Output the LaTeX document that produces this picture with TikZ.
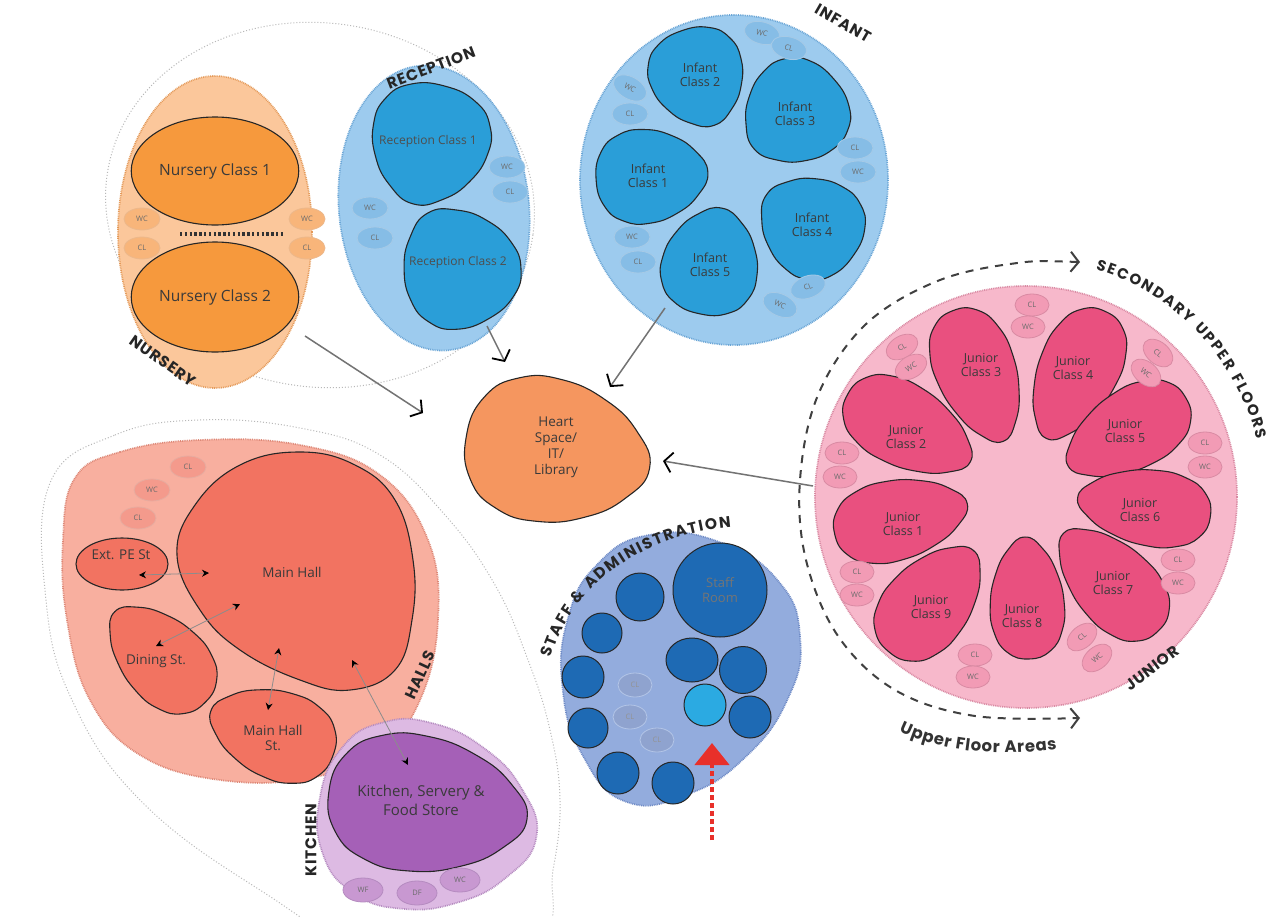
\documentclass[tikz,border=0pt]{standalone}
\usepackage{fontspec}
\setmainfont{Open Sans}
\newfontfamily\headfont[LetterSpace=6]{Poppins}
\newfontfamily\arcfont{Poppins}
\usetikzlibrary{shapes.geometric,arrows.meta,decorations.text}
\definecolor{nurL}{HTML}{FBC79B}\definecolor{nurD}{HTML}{E49A5A}\definecolor{nurC}{HTML}{F6993D}\definecolor{nurS}{HTML}{F8B57A}
\definecolor{bluL}{HTML}{9DCBEE}\definecolor{bluD}{HTML}{6BA6D6}\definecolor{bluC}{HTML}{2A9ED8}\definecolor{bluS}{HTML}{86BDE6}
\definecolor{pinL}{HTML}{F7B8CB}\definecolor{pinD}{HTML}{D98AA3}\definecolor{pinC}{HTML}{E9507F}\definecolor{pinS}{HTML}{F29BB5}
\definecolor{halL}{HTML}{F8AF9F}\definecolor{halD}{HTML}{DD8877}\definecolor{halC}{HTML}{F27361}\definecolor{halS}{HTML}{F49A8C}
\definecolor{kitL}{HTML}{DDBAE3}\definecolor{kitD}{HTML}{B58BC0}\definecolor{kitC}{HTML}{A560B7}\definecolor{kitS}{HTML}{C898D1}
\definecolor{stfL}{HTML}{93ACDD}\definecolor{stfD}{HTML}{6F8BC6}\definecolor{stfC}{HTML}{1E6AB4}\definecolor{stfY}{HTML}{2BAAE2}\definecolor{stfS}{HTML}{8FA3CF}
\definecolor{heartc}{HTML}{F5965F}\definecolor{txt}{HTML}{3A3A3A}\definecolor{redA}{HTML}{E8302A}\definecolor{grayO}{HTML}{B8B8B8}
\newcommand\blobegg[6]{\begin{scope}[shift={(#2,#3)},rotate=#4,xscale=#5,yscale=#6]
\path[#1] plot[smooth cycle,tension=0.8] coordinates {(-1,0) (-0.8,0.47) (-0.4,0.83) (0.1,1) (0.55,0.92) (0.88,0.58) (1,0) (0.88,-0.58) (0.55,-0.92) (0.1,-1) (-0.4,-0.83) (-0.8,-0.47)};
\end{scope}}
\begin{document}
\begin{tikzpicture}[x=1pt,y=-1pt,
 region/.style={line width=1.7pt,dash pattern=on 0.9pt off 0.9pt},
 room/.style={draw=black!85,line width=1.1pt},
 lbl/.style={font=\fontsize{12.5}{14.5}\selectfont,text=txt,align=center},
 slbl/.style={font=\fontsize{12}{13}\selectfont,text=txt!90,align=center},
 head/.style={font=\headfont\bfseries\fontsize{15.5}{16}\selectfont,text=black!85},
 sm/.style={ellipse,minimum width=36pt,minimum height=22pt,inner sep=0pt,line width=0.8pt,font=\fontsize{7.5}{8}\selectfont,text=txt!75},
 nsm/.style={sm,fill=nurS,draw=nurD!70},
 bsm/.style={sm,fill=bluS,draw=bluD!60},
 psm/.style={sm,minimum width=34pt,fill=pinS,draw=pinD},
 hsm/.style={sm,fill=halS,draw=halD!70},
 ksm/.style={sm,minimum width=40pt,minimum height=24pt,fill=kitS,draw=kitD},
 ssm/.style={sm,minimum width=34pt,minimum height=24pt,fill=stfS,draw=stfL!70!white,text=txt!55},
 scirc/.style={circle,fill=stfC,draw=black!85,line width=1pt,inner sep=0pt},
 toheart/.style={draw=black!55,line width=1.5pt,-{Straight Barb[length=8pt,width=20pt,line width=1.8pt,color=black]}},
 hallarr/.style={draw=black!45,line width=0.8pt,{Stealth[length=7pt,width=7pt,color=black]}-{Stealth[length=7pt,width=7pt,color=black]}},
]
\clip (0,0) rectangle (1272,916);
\fill[white] (0,0) rectangle (1272,916);

% ---------- outer grey boundaries
\draw[grayO,line width=1pt,dash pattern=on 1pt off 2pt,rotate around={-8:(320,205)}] (320,205) ellipse[x radius=215,y radius=182];
\draw[grayO,line width=1pt,dash pattern=on 1pt off 2pt] plot[smooth cycle,tension=0.7] coordinates {(50,483) (115,435) (200,420) (300,428) (380,455) (445,515) (495,585) (528,660) (550,730) (560,800) (553,870) (535,940) (400,965) (260,890) (140,800) (72,700) (46,600)};

% ---------- NURSERY
\draw[region,fill=nurL,draw=nurD] (215,232) ellipse[x radius=97,y radius=156];
\node[ellipse,room,fill=nurC,minimum width=132pt,minimum height=108pt,lbl,font=\fontsize{15.5}{17}\selectfont] (nc1) at (215,171) {Nursery Class 1};
\node[ellipse,room,fill=nurC,minimum width=132pt,minimum height=110pt,lbl,font=\fontsize{15.5}{17}\selectfont] (nc2) at (215,297) {Nursery Class 2};
\coordinate (dl1) at (180,234); \coordinate (dl2) at (283,234);
\draw[black!80,line width=4pt,dash pattern=on 2.4pt off 2.4pt] (dl1) -- (dl2);
\node[nsm] (nwc1) at (142,219) {WC};
\node[nsm] (ncl1) at (142,248) {CL};
\node[nsm] (nwc2) at (307,219) {WC};
\node[nsm] (ncl2) at (307,248) {CL};
\node[head,rotate=-35] (lnur) at (163,361) {NURSERY};

% ---------- RECEPTION
\draw[region,fill=bluL,draw=bluD,rotate around={6:(434,208)}] (434,208) ellipse[x radius=95,y radius=143];
\blobegg{fill=bluC,room}{429}{145}{75}{61}{59}
\blobegg{fill=bluC,room}{458}{266}{-60}{61}{58}
\node[slbl] (rc1) at (428,141) {Reception Class 1};
\node[slbl] (rc2) at (458,262) {Reception Class 2};
\node[bsm] (rwc1) at (507,167) {WC};
\node[bsm] (rcl1) at (510,192) {CL};
\node[bsm] (rwc2) at (370,208) {WC};
\node[bsm] (rcl2) at (375,238) {CL};
\node[head,rotate=21] (lrec) at (431,68) {RECEPTION};

% ---------- INFANT
\draw[region,fill=bluL,draw=bluD] (734,180) ellipse[x radius=154,y radius=165];
\blobegg{fill=bluC,room}{698}{78}{109}{50}{47}
\blobegg{fill=bluC,room}{794}{114}{41}{53}{52}
\blobegg{fill=bluC,room}{652}{176}{184}{56}{47}
\blobegg{fill=bluC,room}{810}{225}{-35}{53}{50}
\blobegg{fill=bluC,room}{711}{261}{-102}{54}{48}
\node[lbl] (ic2) at (700,75) {Infant\\Class 2};
\node[lbl] (ic3) at (795,114) {Infant\\Class 3};
\node[lbl] (ic1) at (648,176) {Infant\\Class 1};
\node[lbl] (ic4) at (812,225) {Infant\\Class 4};
\node[lbl] (ic5) at (710,265) {Infant\\Class 5};
\node[bsm,rotate=-15] (iwc1) at (762,33) {WC};
\node[bsm,rotate=-15] (icl1) at (789,48) {CL};
\node[bsm,rotate=-30] (iwc2) at (630,88) {WC};
\node[bsm] (icl2) at (630,114) {CL};
\node[bsm] (icl3) at (855,148) {CL};
\node[bsm] (iwc3) at (858,172) {WC};
\node[bsm] (iwc4) at (632,237) {WC};
\node[bsm] (icl4) at (638,262) {CL};
\node[bsm,rotate=20] (icl5) at (808,287) {CL};
\node[bsm,rotate=-25] (iwc5) at (780,305) {WC};
\node[head,rotate=-30] (linf) at (843,23) {INFANT};

% ---------- JUNIOR
\draw[region,fill=pinL,draw=pinD] (1026,497) circle[radius=211];
\blobegg{fill=pinC,room}{978}{376}{111}{70}{40}
\blobegg{fill=pinC,room}{1076}{375}{65}{70}{40}
\blobegg{fill=pinC,room}{1127}{432}{30}{68}{40}
\blobegg{fill=pinC,room}{1144}{507}{-8}{67}{38}
\blobegg{fill=pinC,room}{1111}{582}{-46}{68}{40}
\blobegg{fill=pinC,room}{1027}{598}{-88}{61}{37}
\blobegg{fill=pinC,room}{931}{601}{-130}{66}{42}
\blobegg{fill=pinC,room}{901}{519}{193}{68}{40}
\blobegg{fill=pinC,room}{909}{428}{151}{70}{41}
\node[lbl] (j3) at (981,365) {Junior\\Class 3};
\node[lbl] (j4) at (1073,368) {Junior\\Class 4};
\node[lbl] (j5) at (1125,431) {Junior\\Class 5};
\node[lbl] (j6) at (1140,510) {Junior\\Class 6};
\node[lbl] (j7) at (1113,583) {Junior\\Class 7};
\node[lbl] (j8) at (1022,616) {Junior\\Class 8};
\node[lbl] (j9) at (931,607) {Junior\\Class 9};
\node[lbl] (j1) at (903,524) {Junior\\Class 1};
\node[lbl] (j2) at (906,437) {Junior\\Class 2};
\node[psm] (jcl1) at (1032,305) {CL};
\node[psm] (jwc1) at (1028,327) {WC};
\node[psm,rotate=30] (jcl2) at (902,347) {CL};
\node[psm,rotate=30] (jwc2) at (911,367) {WC};
\node[psm,rotate=-40] (jcl3) at (1158,353) {CL};
\node[psm,rotate=-40] (jwc3) at (1146,373) {WC};
\node[psm] (jcl4) at (842,453) {CL};
\node[psm] (jwc4) at (840,477) {WC};
\node[psm] (jcl5) at (1205,443) {CL};
\node[psm] (jwc5) at (1205,467) {WC};
\node[psm] (jcl6) at (857,572) {CL};
\node[psm] (jwc6) at (857,595) {WC};
\node[psm] (jcl7) at (1178,560) {CL};
\node[psm] (jwc7) at (1178,583) {WC};
\node[psm] (jcl8) at (975,655) {CL};
\node[psm] (jwc8) at (973,677) {WC};
\node[psm,rotate=40] (jcl9) at (1082,637) {CL};
\node[psm,rotate=40] (jwc9) at (1097,658) {WC};
\node[head,rotate=37] (ljun) at (1152,668) {JUNIOR};
\path[decorate,decoration={text along path,text align=fit to path,text color=black!85,
  text={|\arcfont\bfseries\fontsize{15}{15}\selectfont|SECONDARY UPPER FLOORS}}]
  (1026,497) ++(-73:238) arc[start angle=-73,end angle=-14,radius=238];

% dashed upper floor arc
\coordinate (ufa) at (1080,262);
\coordinate (ufb) at (1080,718);
\draw[black!75,line width=2pt,dash pattern=on 8pt off 7pt,
 {Straight Barb[length=8pt,width=20pt,line width=2pt]}-{Straight Barb[length=8pt,width=20pt,line width=2pt]}]
 plot[smooth,tension=0.6] coordinates {(ufa) (1010,264) (935,282) (865,325) (818,395) (800,480) (806,560) (838,636) (895,690) (975,716) (ufb)};
\path[decorate,decoration={text along path,text align=fit to path,text color=black!80,
  text={|\arcfont\bfseries\fontsize{16.5}{17}\selectfont|Upper Floor Areas}}]
  (899,731) .. controls (945,753) and (1000,757) .. (1057,749);

% ---------- HEART
\blobegg{fill=heartc,room}{558}{452}{170}{93}{72}
\node[lbl,font=\fontsize{13.5}{16}\selectfont] (heart) at (556,447) {Heart\\Space/\\IT/\\Library};

% ---------- HALLS
\path[region,fill=halL,draw=halD] plot[smooth cycle,tension=0.7] coordinates {(75,478) (120,452) (200,440) (300,445) (380,475) (428,540) (438,620) (420,700) (380,750) (310,778) (220,780) (140,755) (90,700) (67,620) (63,540)};
\path[fill=halC,room] plot[smooth cycle,tension=0.7] coordinates {(177,555) (200,610) (240,650) (300,680) (350,690) (395,670) (412,620) (413,560) (395,500) (355,465) (300,452) (240,465) (195,505)};
\node[lbl,font=\fontsize{13.5}{15}\selectfont] (mh) at (292,572) {Main Hall};
\node[ellipse,room,fill=halC,minimum width=92pt,minimum height=52pt,inner sep=0pt] (pe) at (122,564) {};
\node[lbl,font=\fontsize{13.5}{15}\selectfont] (pet) at (121,555) {Ext. PE St};
\blobegg{fill=halC,room}{160}{657}{-45}{64}{41}
\node[lbl,font=\fontsize{13.5}{15}\selectfont] (dn) at (156,661) {Dining St.};
\blobegg{fill=halC,room}{272}{733}{-20}{65}{44}
\node[lbl,font=\fontsize{13.5}{15.5}\selectfont] (mhs) at (273,738) {Main Hall\\St.};
\node[hsm] (hcl1) at (188,467) {CL};
\node[hsm] (hwc1) at (152,490) {WC};
\node[hsm] (hcl2) at (138,518) {CL};
\node[head,rotate=65] (lhal) at (420,675) {HALLS};

% ---------- KITCHEN
\blobegg{region,fill=kitL,draw=kitD}{428}{818}{170}{110}{94}
\blobegg{fill=kitC,room}{428}{805}{172}{100}{68}
\node[lbl,font=\fontsize{15}{19}\selectfont] (kit) at (421,800) {Kitchen, Servery \&\\Food Store};
\node[ksm] (kwf) at (363,890) {WF};
\node[ksm] (kdf) at (417,893) {DF};
\node[ksm] (kwc) at (460,880) {WC};
\node[head,rotate=90] (lkit) at (311,840) {KITCHEN};

% halls internal arrows
\coordinate (pe1) at (139,575); \coordinate (pe2) at (209,573);
\coordinate (dn1) at (156,646); \coordinate (dn2) at (240,604);
\coordinate (ms1) at (268,710); \coordinate (ms2) at (279,648);
\coordinate (kt1) at (408,765); \coordinate (kt2) at (352,660);
\draw[hallarr] (pe1) -- (pe2);
\draw[hallarr] (dn1) -- (dn2);
\draw[hallarr] (ms1) -- (ms2);
\draw[hallarr] (kt1) -- (kt2);

% ---------- STAFF & ADMINISTRATION
\blobegg{region,fill=stfL,draw=stfD}{673}{672}{70}{138}{117}
\node[scirc,minimum size=94pt,lbl,font=\fontsize{13}{15}\selectfont,text=txt!70] (sr) at (720,590) {Staff\\Room};
\node[scirc,minimum size=48pt] (s1) at (640,597) {};
\node[scirc,minimum size=40pt] (s2) at (602,633) {};
\node[scirc,minimum size=42pt] (s3) at (583,677) {};
\node[scirc,minimum size=40pt] (s4) at (588,728) {};
\node[scirc,minimum size=42pt] (s5) at (618,773) {};
\node[scirc,minimum size=42pt] (s6) at (673,783) {};
\node[scirc,ellipse,minimum width=52pt,minimum height=44pt] (s7) at (692,660) {};
\node[scirc,minimum size=47pt] (s8) at (743,670) {};
\node[scirc,fill=stfY,minimum size=42pt] (s9) at (705,705) {};
\node[scirc,minimum size=42pt] (s10) at (750,717) {};
\node[ssm] (scl1) at (635,685) {CL};
\node[ssm] (scl2) at (630,717) {CL};
\node[ssm] (scl3) at (657,740) {CL};
\path[decorate,decoration={text along path,text align=fit to path,text color=black!85,
  text={|\arcfont\bfseries\fontsize{15.5}{15.5}\selectfont|STAFF {\&} ADMINISTRATION}}]
  (551,658) .. controls (569,592) and (634,536) .. (731,527);
\coordinate (rd1) at (712,840);
\coordinate (rd2) at (712,743);
\draw[redA,line width=4.5pt,dash pattern=on 5pt off 3pt,-{Triangle[length=22pt,width=34pt]}] (rd1) -- (rd2);

% ---------- arrows to heart
\coordinate (an1) at (305,336); \coordinate (an2) at (423,413);
\coordinate (ar1) at (487,326); \coordinate (ar2) at (505,362);
\coordinate (ai1) at (665,308); \coordinate (ai2) at (610,387);
\coordinate (aj1) at (813,486); \coordinate (aj2) at (663,461);
\draw[toheart] (an1) -- (an2);
\draw[toheart] (ar1) -- (ar2);
\draw[toheart] (ai1) -- (ai2);
\draw[toheart] (aj1) -- (aj2);
\end{tikzpicture}
\end{document}
